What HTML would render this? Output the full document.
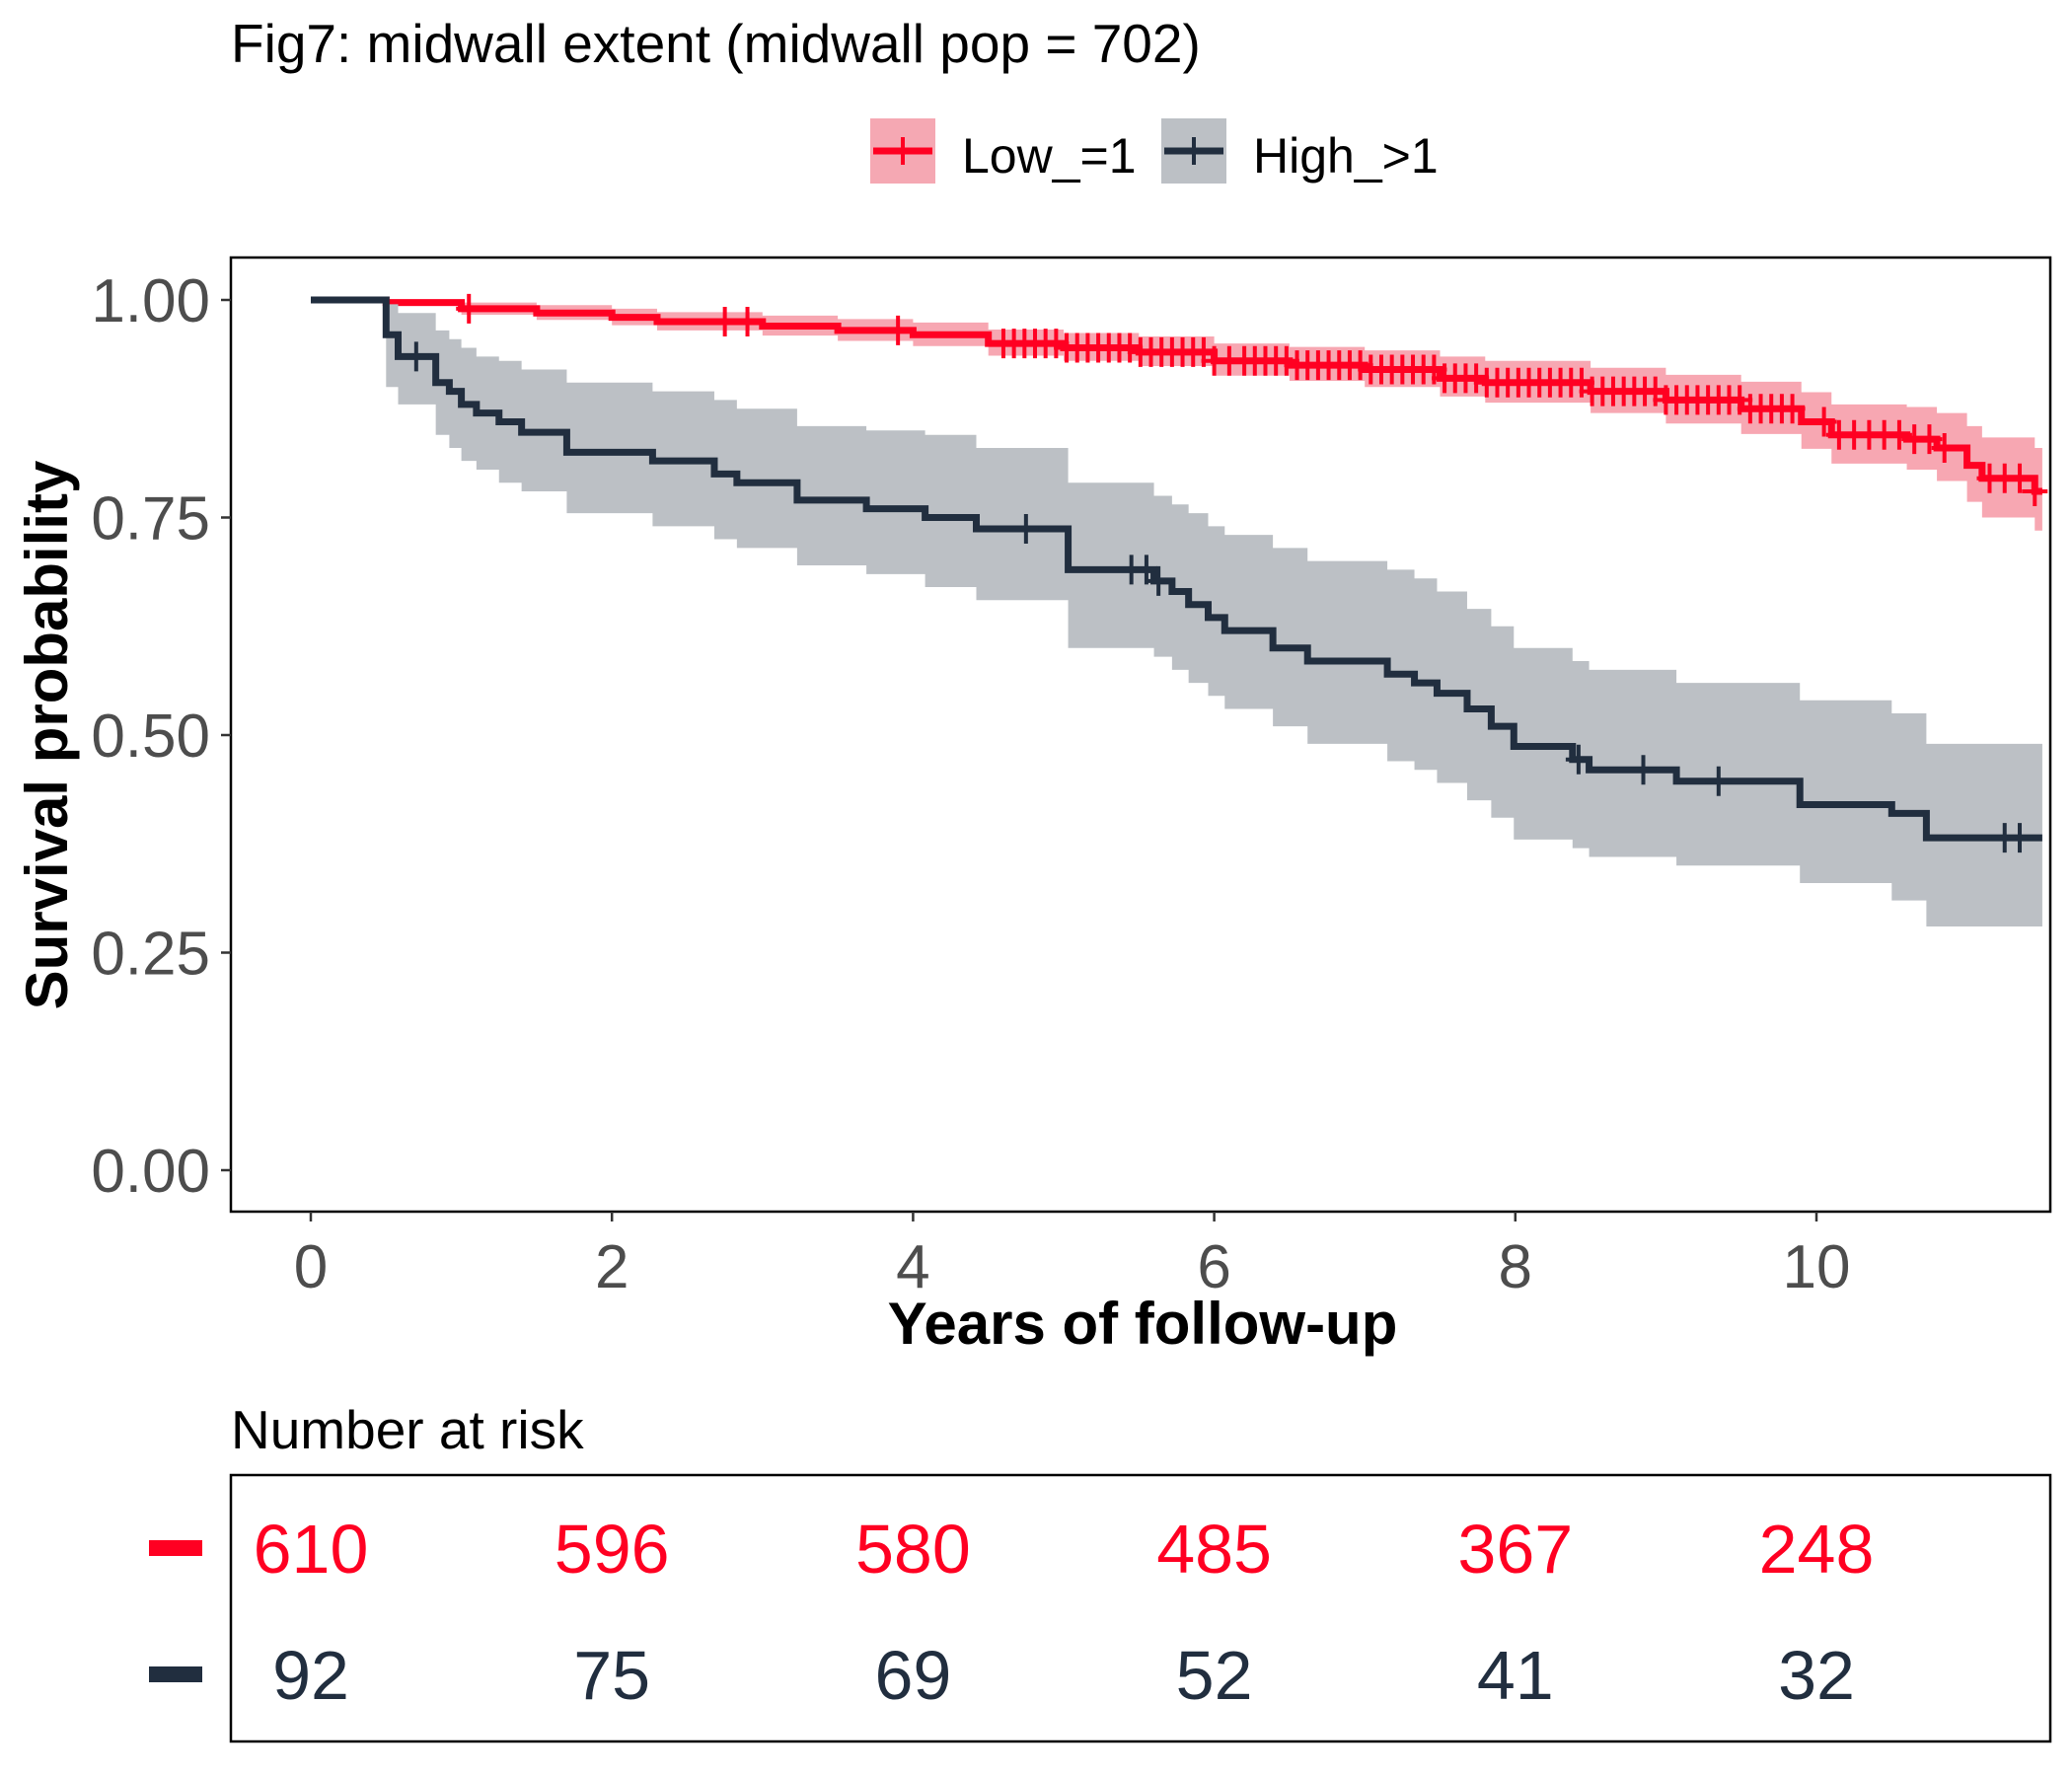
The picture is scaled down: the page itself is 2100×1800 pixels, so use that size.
<!DOCTYPE html>
<html><head><meta charset="utf-8">
<style>
html,body{margin:0;padding:0;background:#fff;}
svg{display:block;font-family:"Liberation Sans",Arial,sans-serif;}
</style></head>
<body>
<svg id="chart" width="2100" height="1800" viewBox="0 0 2100 1800" xmlns="http://www.w3.org/2000/svg">
<text x="234" y="63" font-size="55" fill="#000">Fig7: midwall extent (midwall pop = 702)</text>
<g>
<g>
<rect x="881" y="119" width="68" height="68" fill="#f5a8b3" stroke="#fff" stroke-width="2"/>
<line x1="885" y1="153" x2="945" y2="153" stroke="#ff0022" stroke-width="7"/>
<line x1="915" y1="139" x2="915" y2="167" stroke="#ff0022" stroke-width="4"/>
<text x="975" y="175" font-size="50" fill="#000">Low_=1</text>
</g>
<g>
<rect x="1176" y="119" width="68" height="68" fill="#bcc0c5" stroke="#fff" stroke-width="2"/>
<line x1="1180" y1="153" x2="1240" y2="153" stroke="#212e3f" stroke-width="7"/>
<line x1="1210" y1="139" x2="1210" y2="167" stroke="#212e3f" stroke-width="4"/>
<text x="1270" y="175" font-size="50" fill="#000">High_&gt;1</text>
</g>
</g>
<g id="plot"></g>
<rect x="234" y="261" width="1844" height="967" fill="none" stroke="#000" stroke-width="2.5"/>
<g id="yaxis"></g>
<g id="xaxis"></g>
<text transform="translate(68,745) rotate(-90)" text-anchor="middle" font-size="60" font-weight="bold" fill="#000">Survival probability</text>
<text x="1158" y="1362" text-anchor="middle" font-size="60" font-weight="bold" fill="#000">Years of follow-up</text>
<text x="234" y="1468" font-size="55" fill="#000">Number at risk</text>
<rect x="234" y="1495" width="1844" height="270" fill="none" stroke="#000" stroke-width="2.5"/>
<rect x="151" y="1561" width="54" height="16" fill="#ff0022"/>
<rect x="151" y="1689" width="54" height="16" fill="#212e3f"/>
<g id="risk"></g>
</svg>
<script>
const lowT = [0,0.5,1.0,1.5,2.0,2.3,3.0,3.5,4.0,4.5,5.0,5.5,6.0,6.5,7.0,7.5,7.8,8.5,9.0,9.5,9.9,10.1,10.6,10.8,11.0,11.1,11.45];
const lowS = [1,0.997,0.99,0.985,0.98,0.975,0.97,0.965,0.96,0.95,0.945,0.94,0.93,0.925,0.92,0.91,0.905,0.895,0.885,0.875,0.86,0.845,0.84,0.83,0.81,0.795,0.78];
const lowL = [1,0.993,0.983,0.977,0.971,0.965,0.959,0.953,0.947,0.936,0.93,0.924,0.913,0.907,0.9,0.889,0.882,0.87,0.858,0.846,0.829,0.812,0.805,0.792,0.768,0.75,0.735];
const lowU = [1,1,0.997,0.994,0.99,0.986,0.982,0.978,0.974,0.966,0.962,0.958,0.95,0.946,0.942,0.935,0.93,0.922,0.914,0.906,0.894,0.88,0.877,0.87,0.855,0.842,0.83];
const lowCens = [1.05,2.75,2.9,3.9,4.6,4.67,4.74,4.81,4.88,4.95,5.02,5.09,5.16,5.23,5.3,5.37,5.44,5.51,5.58,5.65,5.72,5.79,5.86,5.93,6.0,6.1,6.2,6.27,6.34,6.41,6.48,6.55,6.62,6.69,6.76,6.83,6.9,6.97,7.04,7.11,7.18,7.25,7.32,7.39,7.46,7.53,7.6,7.67,7.74,7.81,7.88,7.95,8.02,8.09,8.16,8.23,8.3,8.37,8.44,8.51,8.58,8.65,8.72,8.79,8.86,8.93,9.0,9.07,9.14,9.21,9.28,9.35,9.42,9.49,9.56,9.63,9.7,9.77,9.84,10.05,10.15,10.25,10.35,10.45,10.55,10.65,10.75,10.85,11.15,11.25,11.35,11.45];
const highT = [0,0.5,0.58,0.83,0.92,1.0,1.1,1.25,1.4,1.7,2.27,2.68,2.83,3.23,3.69,4.08,4.42,5.03,5.6,5.72,5.83,5.96,6.07,6.39,6.62,7.15,7.33,7.48,7.68,7.84,7.99,8.38,8.49,9.07,9.89,10.5,10.73];
const highS = [1,0.96,0.935,0.905,0.895,0.88,0.87,0.86,0.848,0.825,0.815,0.80,0.79,0.77,0.76,0.75,0.737,0.69,0.677,0.665,0.65,0.635,0.62,0.60,0.585,0.57,0.56,0.548,0.53,0.51,0.487,0.472,0.46,0.447,0.42,0.41,0.382];
const highL = [1,0.9,0.88,0.845,0.83,0.815,0.805,0.79,0.78,0.755,0.74,0.725,0.715,0.695,0.685,0.67,0.655,0.6,0.59,0.575,0.56,0.545,0.53,0.51,0.49,0.47,0.46,0.445,0.425,0.405,0.38,0.37,0.36,0.35,0.33,0.31,0.28];
const highU = [1,0.995,0.985,0.965,0.955,0.945,0.935,0.93,0.92,0.905,0.895,0.885,0.875,0.855,0.85,0.845,0.83,0.79,0.775,0.765,0.755,0.74,0.73,0.715,0.7,0.69,0.68,0.665,0.645,0.625,0.6,0.585,0.575,0.56,0.54,0.525,0.49];
const highCens = [0.7,4.75,5.45,5.55,5.63,8.42,8.85,9.35,11.25,11.35];
const xTicks = [0,2,4,6,8,10];
const yTicks = [0,0.25,0.5,0.75,1.0];
const yTickLabels = ["0.00","0.25","0.50","0.75","1.00"];
const riskLow = [610,596,580,485,367,248];
const riskHigh = [92,75,69,52,41,32];
const xMax = 11.5;

const NS="http://www.w3.org/2000/svg";
const X = t => 315 + t*152.6;
const Y = s => 1186 - s*882;
function mk(tag, attrs, parent){const e=document.createElementNS(NS,tag);for(const k in attrs)e.setAttribute(k,attrs[k]);parent.appendChild(e);return e;}
const plot=document.getElementById('plot');

function stepPath(T,S){let d=`M${X(T[0])},${Y(S[0])}`;for(let i=1;i<T.length;i++){d+=`H${X(T[i])}V${Y(S[i])}`;}d+=`H${X(xMax)}`;return d;}
function band(T,L,U){let top=`M${X(T[0])},${Y(U[0])}`;for(let i=1;i<T.length;i++){top+=`H${X(T[i])}V${Y(U[i])}`;}top+=`H${X(xMax)}V${Y(L[L.length-1])}`;for(let i=T.length-1;i>=1;i--){top+=`H${X(T[i])}V${Y(L[i-1])}`;}top+=`H${X(T[0])}Z`;return top;}
function survAt(T,S,t){let s=S[0];for(let i=0;i<T.length;i++){if(T[i]<=t)s=S[i];}return s;}

function series(T,S,L,U,C,color,fill,name){
  const g=mk('g',{},plot);
  
  
  const b=mk('path',{d:band(T,L,U),fill:fill,stroke:'none'},g);
  
  
  const p=mk('path',{d:stepPath(T,S),fill:'none',stroke:color,'stroke-width':7},g);
  
  
  C.forEach(t=>{
    const x=X(t),y=Y(survAt(T,S,t));
    const c=mk('path',{d:`M${x-13},${y}H${x+13}M${x},${y-15}V${y+15}`,stroke:color,'stroke-width':4,fill:'none'},g);
    
    
  });
}
series(lowT,lowS,lowL,lowU,lowCens,'#ff0022','#f7a7b2','low');
series(highT,highS,highL,highU,highCens,'#212e3f','#bcc0c5','high');

const ya=document.getElementById('yaxis');
yTicks.forEach((v,i)=>{
  const l=mk('line',{x1:224,x2:234,y1:Y(v),y2:Y(v),stroke:'#333','stroke-width':2.5},ya);
  
  
  const t=mk('text',{x:213,y:Y(v)+22,'text-anchor':'end','font-size':62,fill:'#4d4d4d'},ya);
  t.textContent=yTickLabels[i];
  
  
});
const xa=document.getElementById('xaxis');
xTicks.forEach(v=>{
  const l=mk('line',{x1:X(v),x2:X(v),y1:1228,y2:1238,stroke:'#333','stroke-width':2.5},xa);
  
  
  const t=mk('text',{x:X(v),y:1305,'text-anchor':'middle','font-size':62,fill:'#4d4d4d'},xa);
  t.textContent=v;
  
  
});
const rk=document.getElementById('risk');
xTicks.forEach((v,i)=>{
  const a=mk('text',{x:X(v),y:1594,'text-anchor':'middle','font-size':70,fill:'#ff0022'},rk);
  a.textContent=riskLow[i];
  
  
  const b=mk('text',{x:X(v),y:1722,'text-anchor':'middle','font-size':70,fill:'#212e3f'},rk);
  b.textContent=riskHigh[i];
  
  
});
</script>
</body></html>
